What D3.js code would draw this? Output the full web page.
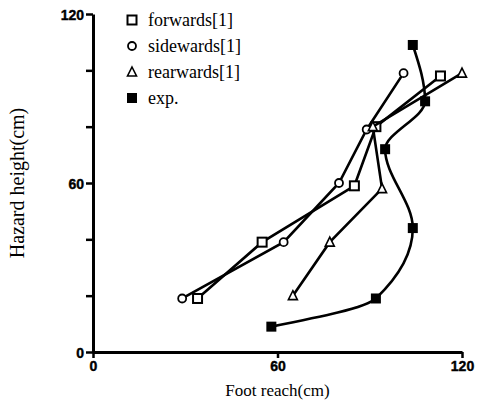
<!DOCTYPE html>
<html>
<head>
<meta charset="utf-8">
<script src="https://cdn.jsdelivr.net/npm/d3@7"></script>
<style>
	body { margin: 0; background: #fff; }
	.tick text { font-family: "Liberation Sans", Arial, sans-serif; font-weight: bold; font-size: 14px; fill: #000; stroke: #000; stroke-width: 0.4px; }
	.title { font-family: "Liberation Serif", "Times New Roman", serif; }
</style>
</head>
<body>
<svg id="chart" width="479" height="403"></svg>
<script>
// hazard height (y) vs foot reach (x)
var forwardsX = [34, 55, 85, 92, 113],
	forwardsY = [19, 39, 59, 80, 98];
var sidewardsX = [29, 62, 80, 89, 101],
	sidewardsY = [19, 39, 60, 79, 99];
var rearwardsX = [65, 77, 94, 91, 120],
	rearwardsY = [20, 39, 58, 80, 99];
var expX = [58, 92, 104, 95, 108, 104],
	expY = [9, 19, 44, 72, 89, 109];

var xTicks = [0, 60, 120],
	yTicks = [0, 20, 40, 60, 80, 100, 120],
	yLabels = [0, 60, 120];

var legendNames = ["forwards[1]", "sidewards[1]", "rearwards[1]", "exp."];

var svg = d3.select("svg#chart"),
	margin = {top: 14, right: 17, bottom: 51, left: 93},
	width = +svg.attr("width") - margin.left - margin.right,
	height = +svg.attr("height") - margin.top - margin.bottom;

var g = svg.append("g").attr("transform", "translate(" + margin.left + "," + margin.top + ")");

var x = d3.scaleLinear().domain([0, 120]).range([0, width]);
var y = d3.scaleLinear().domain([0, 120]).range([height, 0]);

// axes
var xAxis = g.append("g")
	.attr("transform", "translate(0," + height + ")")
	.call(d3.axisBottom(x).tickValues(xTicks).tickSize(6).tickSizeOuter(0).tickPadding(3));

var yAxis = g.append("g")
	.call(d3.axisLeft(y).tickValues(yTicks).tickSize(7).tickSizeOuter(0).tickPadding(2)
		.tickFormat(function(d) { return yLabels.indexOf(d) >= 0 ? d : ""; }));

[xAxis, yAxis].forEach(function(a) {
	a.select(".domain").attr("stroke", "#000").attr("stroke-width", 3);
	a.selectAll(".tick line").attr("stroke", "#000").attr("stroke-width", 2.5);
});
yAxis.selectAll(".tick text").attr("dy", "0.36em");

svg.append("text").attr("class", "title")
	.attr("x", margin.left + x(60)).attr("y", 396)
	.attr("text-anchor", "middle").attr("fill", "#000").style("font-size", "17px")
	.text("Foot reach(cm)");

svg.append("text").attr("class", "title")
	.attr("transform", "translate(24," + (margin.top + y(60)) + ") rotate(-90)")
	.attr("text-anchor", "middle").attr("fill", "#000").style("font-size", "20px")
	.text("Hazard height(cm)");

// series
var series = [
	{xs: forwardsX, ys: forwardsY, shape: "square", curve: d3.curveLinear},
	{xs: sidewardsX, ys: sidewardsY, shape: "circle", curve: d3.curveLinear},
	{xs: rearwardsX, ys: rearwardsY, shape: "triangle", curve: d3.curveLinear},
	{xs: expX, ys: expY, shape: "filled", curve: d3.curveMonotoneY}
];

function drawMarker(sel, shape) {
	if (shape == "square") {
		sel.append("rect").attr("x", -4.5).attr("y", -4.5).attr("width", 9).attr("height", 9)
			.attr("fill", "#fff").attr("stroke", "#000").attr("stroke-width", 2);
	} else if (shape == "circle") {
		sel.append("circle").attr("r", 4).attr("fill", "#fff").attr("stroke", "#000").attr("stroke-width", 1.8);
	} else if (shape == "triangle") {
		sel.append("path").attr("d", "M0,-5L4.5,4L-4.5,4Z")
			.attr("fill", "#fff").attr("stroke", "#000").attr("stroke-width", 1.6);
	} else {
		sel.append("rect").attr("x", -5).attr("y", -5).attr("width", 10).attr("height", 10)
			.attr("fill", "#000");
	}
}

series.forEach(function(s) {
	var pts = s.xs.map(function(v, i) { return [v, s.ys[i]]; });
	var line = d3.line()
		.x(function(d) { return x(d[0]); })
		.y(function(d) { return y(d[1]); })
		.curve(s.curve);
	g.append("path").datum(pts)
		.attr("d", line)
		.attr("fill", "none").attr("stroke", "#000").attr("stroke-width", 2.6);
	g.selectAll(null).data(pts).enter().append("g")
		.attr("transform", function(d) { return "translate(" + x(d[0]) + "," + y(d[1]) + ")"; })
		.each(function() { drawMarker(d3.select(this), s.shape); });
});

// legend
var legend = svg.append("g").attr("transform", "translate(132,20)");
legendNames.forEach(function(name, i) {
	var row = legend.append("g").attr("transform", "translate(0," + (i * 26) + ")");
	drawMarker(row, series[i].shape);
	row.append("text").attr("class", "title")
		.attr("x", 16).attr("dy", "0.33em").attr("fill", "#000").style("font-size", "18px")
		.text(name);
});
</script>
</body>
</html>
